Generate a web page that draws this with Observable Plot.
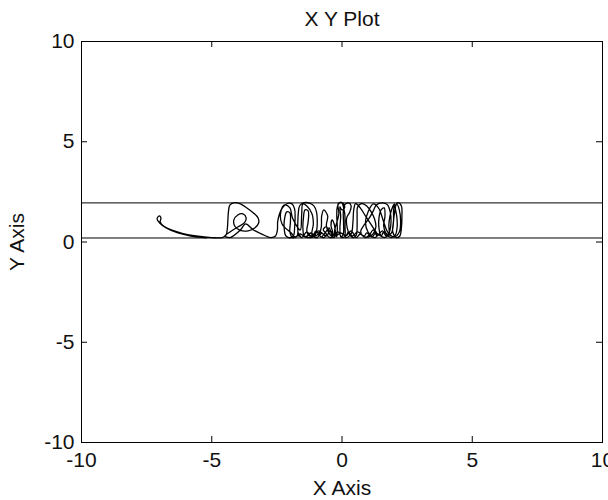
<!DOCTYPE html>
<html>
<head>
<meta charset="utf-8">
<script src="https://cdn.jsdelivr.net/npm/d3@7"></script>
<script src="https://cdn.jsdelivr.net/npm/@observablehq/plot@0.6"></script>
<style>
  html, body { margin: 0; padding: 0; background: white; }
</style>
</head>
<body>
<div id="chart"></div>
<script>
const title = "X Y Plot";
const xLabel = "X Axis";
const yLabel = "Y Axis";
const xTicks = [-10, -5, 0, 5, 10];
const yTicks = [-10, -5, 0, 5, 10];
const bounds = [0.2, 1.95];

// trajectory points [x, y]
const trajectory = [
  [-5.2, 0.21], [-5.8, 0.3], [-6.3, 0.45], [-6.75, 0.7], [-7.0, 0.95], [-7.1, 1.15], [-7.02, 1.3],
  [-6.95, 1.2], [-6.98, 1.0], [-6.85, 0.8], [-6.55, 0.6], [-6.1, 0.42], [-5.6, 0.3], [-5.0, 0.22], [-4.6, 0.22],
  [-4.45, 0.35], [-4.4, 0.7], [-4.38, 1.1], [-4.36, 1.5], [-4.3, 1.85], [-4.12, 1.96], [-3.9, 1.9],
  [-3.65, 1.7], [-3.4, 1.45], [-3.22, 1.2], [-3.2, 0.95], [-3.35, 0.7], [-3.6, 0.56], [-3.9, 0.58],
  [-4.12, 0.8], [-4.15, 1.1], [-4.0, 1.35], [-3.8, 1.4], [-3.68, 1.2], [-3.75, 0.95], [-4.0, 0.75],
  [-4.3, 0.5], [-4.5, 0.3], [-4.3, 0.22], [-3.9, 0.6], [-3.7, 0.9], [-3.4, 0.6], [-3.0, 0.35], [-2.75, 0.22],
  [-2.55, 0.3], [-2.48, 0.6], [-2.47, 1.0], [-2.4, 1.4], [-2.28, 1.72], [-2.1, 1.92], [-1.92, 1.9],
  [-1.82, 1.65], [-1.8, 1.2], [-1.82, 0.7], [-1.85, 0.35], [-1.95, 0.22], [-2.15, 0.3], [-2.22, 0.7],
  [-2.2, 1.2], [-2.12, 1.5], [-2.0, 1.45], [-1.98, 1.0], [-2.0, 0.5], [-1.9, 0.22], [-1.72, 0.3],
  [-1.7, 0.8], [-1.68, 1.4], [-1.62, 1.82], [-1.45, 1.96], [-1.25, 1.94], [-1.08, 1.8], [-0.98, 1.5],
  [-0.95, 1.0], [-0.97, 0.6], [-1.05, 0.3], [-1.2, 0.22], [-1.45, 0.3], [-1.5, 0.7], [-1.48, 1.2],
  [-1.42, 1.6], [-1.3, 1.55], [-1.3, 1.0], [-1.35, 0.55], [-1.25, 0.3], [-1.05, 0.4], [-0.9, 0.55],
  [-0.8, 0.45], [-0.85, 0.3], [-0.7, 0.22], [-0.6, 0.4], [-0.72, 0.6], [-0.62, 0.75], [-0.5, 0.55],
  [-0.55, 0.3], [-0.4, 0.22], [-0.35, 0.45], [-0.42, 0.8], [-0.38, 1.1], [-0.3, 0.9], [-0.25, 0.5],
  [-0.2, 0.25], [-0.18, 0.7], [-0.2, 1.3], [-0.18, 1.75], [-0.1, 1.95], [0.05, 1.92], [0.1, 1.7],
  [0.0, 1.6], [-0.08, 1.75], [-0.05, 1.3], [-0.08, 0.7], [-0.05, 0.25], [0.05, 0.4], [0.06, 0.9],
  [0.05, 1.5], [0.1, 1.85], [0.25, 1.95], [0.35, 1.8], [0.3, 1.5], [0.18, 1.2], [0.2, 0.7], [0.3, 0.35],
  [0.45, 0.22], [0.55, 0.35], [0.58, 0.8], [0.58, 1.3], [0.6, 1.75], [0.75, 1.92], [0.95, 1.8],
  [1.12, 1.5], [1.25, 1.15], [1.3, 0.75], [1.2, 0.42], [1.0, 0.25], [0.8, 0.3], [0.72, 0.55],
  [0.85, 0.85], [1.05, 1.2], [1.2, 1.55], [1.32, 1.85], [1.55, 1.95], [1.75, 1.85], [1.85, 1.5],
  [1.88, 1.0], [1.82, 0.5], [1.68, 0.24], [1.5, 0.3], [1.42, 0.7], [1.42, 1.2], [1.5, 1.6], [1.62, 1.7],
  [1.65, 1.3], [1.6, 0.8], [1.7, 0.4], [1.9, 0.22], [2.05, 0.35], [2.12, 0.8], [2.1, 1.3], [2.05, 1.75],
  [2.15, 1.96], [2.28, 1.8], [2.3, 1.3], [2.28, 0.7], [2.22, 0.3], [2.1, 0.22], [1.95, 0.5], [1.98, 1.1],
  [1.98, 1.6], [2.02, 1.9], [1.9, 1.6], [1.8, 0.9], [1.8, 0.35], [1.6, 0.5], [1.5, 0.3], [1.3, 0.45],
  [1.15, 0.25], [0.95, 0.45], [0.85, 0.3], [0.6, 0.5], [0.4, 0.3], [0.25, 0.5], [0.15, 0.3], [-0.05, 0.45],
  [-0.25, 0.3], [-0.45, 0.55], [-0.6, 0.3], [-0.85, 0.5], [-1.0, 0.3], [-1.2, 0.45], [-1.4, 0.25],
  [-1.6, 0.4], [-1.8, 0.25],
  [-1.95, 0.45], [-2.3, 0.9], [-2.35, 1.5], [-2.2, 1.85], [-2.0, 1.7], [-1.9, 1.2], [-1.6, 0.6],
  [-1.55, 1.3], [-1.5, 1.9], [-1.35, 1.8], [-1.15, 1.4], [-1.1, 0.9], [-1.15, 0.35], [-0.95, 0.22],
  [-0.8, 0.7], [-0.78, 1.3], [-0.7, 1.6], [-0.55, 1.3], [-0.6, 0.8], [-0.45, 0.35], [-0.3, 0.22],
  [-0.28, 0.6], [-0.12, 1.4], [-0.15, 1.9], [-0.02, 1.98], [0.1, 1.45], [0.12, 0.6], [0.15, 0.22],
  [0.35, 0.4], [0.42, 1.0], [0.45, 1.6], [0.52, 1.92], [0.7, 1.7], [0.9, 1.3], [1.15, 0.8], [1.35, 0.35],
  [1.25, 0.22], [1.0, 0.5], [0.9, 1.0], [1.0, 1.5], [1.2, 1.9], [1.4, 1.7], [1.6, 1.0], [1.75, 0.5],
  [2.0, 0.25], [2.2, 0.5], [2.25, 1.0], [2.2, 1.6], [2.1, 1.9], [2.0, 1.3], [1.9, 0.45], [1.7, 0.3],
  [1.55, 0.55], [1.35, 0.3], [1.2, 0.6], [1.05, 0.35], [0.9, 0.22], [0.7, 0.4], [0.55, 0.22], [0.35, 0.55],
  [0.2, 0.35], [0.0, 0.22], [-0.15, 0.5], [-0.35, 0.3], [-0.5, 0.7], [-0.65, 0.45], [-0.8, 0.25],
  [-1.0, 0.55], [-1.15, 0.25], [-1.35, 0.5], [-1.55, 0.22], [-1.7, 0.5], [-1.65, 0.28]
];

const font = "'Liberation Sans', Arial, sans-serif";
const fmt = d => String(d);

const chart = Plot.plot({
  width: 608,
  height: 500,
  marginLeft: 81,
  marginRight: 6,
  marginTop: 41,
  marginBottom: 58,
  x: {domain: [-10, 10]},
  y: {domain: [-10, 10]},
  style: {fontFamily: font, fontSize: "21px", background: "white", color: "black"},
  marks: [
    Plot.ruleY(bounds, {stroke: "black", strokeWidth: 1}),
    Plot.line(trajectory, {x: d => d[0], y: d => d[1], stroke: "black", strokeWidth: 1.3, curve: "catmull-rom"}),
    Plot.ruleX(xTicks, {stroke: "black", insetTop: 395}),
    Plot.ruleX(xTicks, {stroke: "black", insetBottom: 395}),
    Plot.ruleY(yTicks, {stroke: "black", insetRight: 515}),
    Plot.ruleY(yTicks, {stroke: "black", insetLeft: 515}),
    Plot.frame({stroke: "black", strokeWidth: 1}),
    Plot.axisX(xTicks, {tickSize: 0, tickPadding: 10, tickFormat: fmt, fontSize: 21, label: null, fill: "#111"}),
    Plot.axisY(yTicks, {tickSize: 0, tickPadding: 7, tickFormat: fmt, fontSize: 21, label: null, fill: "#111"}),
    Plot.text([title], {frameAnchor: "top", dy: -22, lineAnchor: "middle", textAnchor: "middle", fontSize: 21, fill: "#111"}),
    Plot.text([xLabel], {frameAnchor: "bottom", dy: 46, lineAnchor: "middle", textAnchor: "middle", fontSize: 21, fill: "#111"}),
    Plot.text([yLabel], {frameAnchor: "left", dx: -64, rotate: -90, lineAnchor: "middle", textAnchor: "middle", fontSize: 21, fill: "#111"})
  ]
});
document.getElementById("chart").appendChild(chart);
</script>
</body>
</html>
